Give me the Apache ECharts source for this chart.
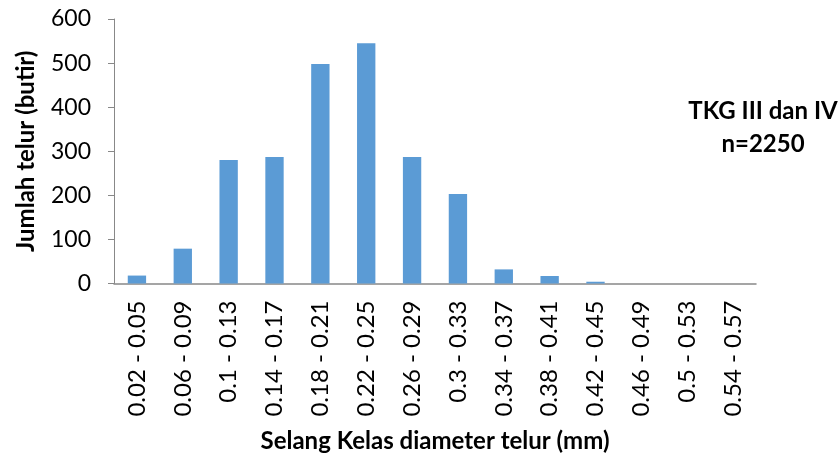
<!DOCTYPE html>
<html>
<head>
<meta charset="utf-8">
<script src="https://cdn.jsdelivr.net/npm/echarts@6/dist/echarts.min.js"></script>
<style>
  html, body { margin: 0; padding: 0; background: #fff; }
  #chart { width: 840px; height: 455px; }
</style>
</head>
<body>
<div id="chart"></div>
<script>
// Egg diameter class intervals (mm)
const categories = [
  '0.02 - 0.05', '0.06 - 0.09', '0.1 - 0.13', '0.14 - 0.17', '0.18 - 0.21',
  '0.22 - 0.25', '0.26 - 0.29', '0.3 - 0.33', '0.34 - 0.37', '0.38 - 0.41',
  '0.42 - 0.45', '0.46 - 0.49', '0.5 - 0.53', '0.54 - 0.57'
];
// Egg counts per class
const counts = [18, 79, 280, 287, 498, 545, 287, 203, 32, 17, 4, 0, 0, 0];
const yTicks = { min: 0, max: 600, interval: 100 };
const noteLines = ['TKG III dan IV', 'n=2250'];

const FONT = 'Lato, "Open Sans", sans-serif';
const chart = echarts.init(document.getElementById('chart'), null, { renderer: 'canvas' });

chart.setOption({
  animation: false,
  backgroundColor: '#ffffff',
  grid: { left: 114, right: 84, top: 19, bottom: 171.5, outerBoundsMode: 'none', containLabel: false },
  xAxis: {
    type: 'category',
    data: categories,
    name: 'Selang Kelas diameter telur (mm)',
    nameLocation: 'middle',
    nameGap: 146,
    nameTextStyle: { fontFamily: FONT, fontWeight: 'bold', fontSize: 24, color: '#000', verticalAlign: 'top' },
    axisLine: { lineStyle: { color: '#888888', width: 1.5 } },
    axisTick: { show: false },
    axisLabel: { rotate: 90, margin: 17, fontFamily: FONT, fontSize: 24, color: '#000', interval: 0 }
  },
  yAxis: {
    type: 'value',
    min: yTicks.min,
    max: yTicks.max,
    interval: yTicks.interval,
    name: 'Jumlah telur (butir)',
    nameLocation: 'middle',
    nameGap: 76,
    nameTextStyle: { fontFamily: FONT, fontWeight: 'bold', fontSize: 24, color: '#000' },
    axisLine: { show: true, lineStyle: { color: '#888888', width: 1 } },
    axisTick: { show: true, length: 6, lineStyle: { color: '#888888' } },
    splitLine: { show: false },
    axisLabel: { margin: 23, fontFamily: FONT, fontSize: 23, color: '#000' }
  },
  series: [{
    type: 'bar',
    data: counts,
    barWidth: '40%',
    itemStyle: { color: '#5B9BD5' }
  }],
  graphic: [{
    type: 'text',
    x: 763,
    y: 95,
    style: {
      text: noteLines.join('\n'),
      fontFamily: FONT,
      fontWeight: 'bold',
      fontSize: 24,
      lineHeight: 33,
      fill: '#000',
      textAlign: 'center',
      textVerticalAlign: 'top'
    }
  }]
});
</script>
</body>
</html>
